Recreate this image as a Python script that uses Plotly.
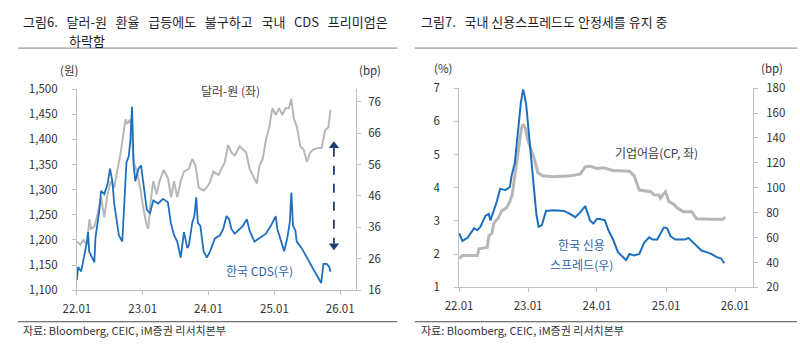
import plotly.graph_objects as go

# ---------------- data: left chart (그림6) ----------------
fx_dates = ["2022-01-01","2022-01-20","2022-02-07","2022-02-25","2022-03-12","2022-03-20","2022-04-08",
            "2022-04-27","2022-05-15","2022-06-02","2022-06-20","2022-07-08","2022-07-27","2022-08-14",
            "2022-09-01","2022-09-19","2022-09-28","2022-10-07","2022-10-25","2022-11-03","2022-11-12",
            "2022-11-30","2022-12-18","2023-01-06","2023-01-24","2023-02-01","2023-02-15","2023-03-01",
            "2023-03-19","2023-04-05","2023-04-27","2023-05-21","2023-06-08","2023-06-24","2023-07-12",
            "2023-07-31","2023-08-18","2023-09-15","2023-10-03","2023-10-21","2023-11-08","2023-12-05",
            "2023-12-23","2024-01-10","2024-01-28","2024-02-25","2024-03-14","2024-04-01","2024-04-19",
            "2024-05-07","2024-05-26","2024-06-22","2024-07-10","2024-07-28","2024-08-16","2024-09-03",
            "2024-09-25","2024-10-10","2024-10-28","2024-11-15","2024-12-03","2024-12-21","2025-01-08",
            "2025-01-27","2025-02-14","2025-03-04","2025-03-22","2025-04-04","2025-04-18","2025-05-06",
            "2025-05-25","2025-06-12","2025-06-30","2025-07-18","2025-08-05","2025-09-02","2025-09-20",
            "2025-10-09","2025-10-27","2025-11-08"]
fx_values = [1197,1191,1200,1191,1241,1222,1226,
             1253,1285,1245,1291,1317,1304,1336,
             1374,1418,1440,1431,1440,1405,1355,
             1336,1304,1260,1228,1222,1279,1317,
             1291,1317,1339,1323,1285,1317,1285,
             1317,1336,1342,1361,1348,1304,1298,
             1305,1315,1336,1329,1342,1355,1389,
             1374,1368,1386,1380,1374,1342,1329,
             1312,1348,1361,1399,1424,1462,1449,
             1462,1449,1462,1462,1481,1443,1424,
             1386,1380,1355,1374,1380,1383,1383,
             1418,1424,1459]

cds_dates = ["2022-01-01","2022-01-08","2022-01-25","2022-02-14","2022-02-26","2022-03-04","2022-03-10",
             "2022-04-08","2022-04-14","2022-05-06","2022-05-15","2022-06-02","2022-06-20","2022-07-04",
             "2022-07-17","2022-07-27","2022-08-10","2022-08-22","2022-09-10","2022-09-23","2022-10-03",
             "2022-10-16","2022-10-25","2022-11-03","2022-11-12","2022-11-21","2022-12-09","2022-12-23",
             "2023-01-06","2023-01-24","2023-02-11","2023-03-01","2023-03-28","2023-04-24","2023-05-21",
             "2023-06-06","2023-06-24","2023-07-12","2023-07-31","2023-08-18","2023-09-06","2023-09-15",
             "2023-10-03","2023-10-15","2023-10-25","2023-11-03","2023-11-17","2023-12-05","2023-12-23",
             "2024-01-10","2024-02-06","2024-03-05","2024-03-23","2024-04-10","2024-04-25","2024-05-07",
             "2024-05-26","2024-06-22","2024-07-10","2024-08-01","2024-08-16","2024-09-12","2024-10-08",
             "2024-11-15","2024-12-12","2025-01-08","2025-01-17","2025-02-05","2025-02-24","2025-03-13",
             "2025-03-27","2025-04-05","2025-04-14","2025-04-27","2025-05-05","2025-06-01","2025-06-30",
             "2025-07-27","2025-08-24","2025-09-17","2025-09-30","2025-10-18","2025-11-01","2025-11-08"]
cds_values = [19.3,23.4,22.0,27.4,31.5,34.5,28.4,
              24.9,32.7,41.6,47.6,46.6,49.7,54.7,
              50.6,43.6,38.5,33.5,31.5,44.6,56.7,
              58.7,63.8,74.4,55.7,50.7,54.7,55.7,
              49.7,41.6,40.6,44.6,43.6,45.1,44.0,
              37.5,33.5,31.5,26.4,34.5,29.4,30.5,
              37.5,39.6,45.6,37.5,36.5,28.4,26.4,
              28.4,32.5,33.5,35.5,39.6,38.6,35.5,
              34.0,35.5,36.5,38.6,35.0,31.5,32.5,
              34.0,36.5,39.6,35.5,31.5,28.4,32.5,
              37.5,47.1,36.5,35.0,31.5,29.4,26.4,
              23.4,20.3,18.3,24.4,24.4,23.4,21.9]

# ---------------- data: right chart (그림7) ----------------
cp_dates = ["2022-01-01","2022-01-19","2022-04-08","2022-04-16","2022-05-30","2022-06-07","2022-06-24",
            "2022-07-03","2022-07-29","2022-08-15","2022-09-10","2022-09-27","2022-10-09","2022-10-23",
            "2022-11-10","2022-11-27","2022-12-06","2022-12-18","2023-01-01","2023-01-18","2023-02-05",
            "2023-02-22","2023-03-19","2023-05-18","2023-08-14","2023-10-04","2023-10-31","2023-11-25",
            "2023-12-31","2024-02-03","2024-03-26","2024-06-21","2024-07-16","2024-08-03","2024-08-12",
            "2024-10-12","2024-10-29","2024-11-24","2024-12-02","2024-12-20","2024-12-29","2025-01-15",
            "2025-02-11","2025-02-28","2025-04-03","2025-05-16","2025-06-11","2025-08-28","2025-10-28",
            "2025-11-10"]
cp_values = [1.87,1.96,1.96,2.16,2.20,2.54,2.63,
             2.92,3.11,3.31,3.40,3.59,3.78,4.36,
             5.12,5.79,5.91,5.79,5.41,5.12,4.84,
             4.45,4.36,4.33,4.36,4.41,4.63,4.65,
             4.58,4.60,4.52,4.50,4.36,4.07,3.93,
             3.88,3.78,3.78,3.69,3.83,3.88,3.59,
             3.50,3.40,3.28,3.28,3.07,3.05,3.05,
             3.12]

spread_dates = ["2022-01-01","2022-01-19","2022-02-15","2022-03-21","2022-04-08","2022-04-24","2022-05-21",
                "2022-06-07","2022-06-16","2022-07-03","2022-07-20","2022-08-07","2022-09-02","2022-09-27",
                "2022-10-06","2022-10-23","2022-11-10","2022-11-24","2022-12-06","2022-12-14","2022-12-23",
                "2023-01-10","2023-01-27","2023-02-14","2023-02-26","2023-03-15","2023-04-06","2023-05-18",
                "2023-07-10","2023-08-14","2023-09-08","2023-10-04","2023-10-31","2023-11-25","2023-12-13",
                "2023-12-31","2024-01-17","2024-02-12","2024-03-01","2024-03-26","2024-04-21","2024-05-17",
                "2024-06-03","2024-06-21","2024-07-16","2024-08-12","2024-09-07","2024-10-03","2024-10-20",
                "2024-11-15","2024-12-02","2024-12-20","2025-01-07","2025-01-24","2025-02-19","2025-03-17",
                "2025-04-12","2025-04-29","2025-05-16","2025-06-11","2025-07-07","2025-08-02","2025-08-28",
                "2025-09-23","2025-10-19","2025-11-05"]
spread_values = [63.6,57.3,59.8,67.4,66.0,68.7,77.6,
                 78.9,73.8,81.4,89.1,99.3,98.1,100.6,
                 109.6,119.8,147.8,168.3,179.0,174.0,165.7,
                 135.0,104.4,78.9,68.7,69.9,81.4,81.9,
                 81.4,78.9,76.4,80.2,85.3,73.8,71.3,
                 75.0,75.0,73.8,66.1,58.5,48.3,44.5,
                 42.0,46.9,45.7,46.9,56.0,60.3,58.5,
                 58.5,63.6,68.2,67.4,61.1,58.5,58.5,
                 58.5,59.8,57.3,53.4,49.6,48.3,47.0,
                 44.5,43.2,39.4]

tick_dates = ["2022-01-01","2023-01-01","2024-01-01","2025-01-01","2026-01-01"]
tick_text = ["22.01","23.01","24.01","25.01","26.01"]

# ---------------- styling / layout constants ----------------
W, H = 800, 344
FONT = "Noto Sans CJK KR, Noto Sans, sans-serif"
GRAY_LINE = "#b7b7b7"
BLUE = "#1f6fc1"
TXT = "#333333"
AX = "#bfbfbf"

def px(x):
    return x / W

def py(y):
    return 1 - y / H

fig = go.Figure()

fig.add_trace(go.Scatter(x=fx_dates, y=fx_values, mode="lines", line=dict(color=GRAY_LINE, width=2),
                         xaxis="x", yaxis="y", showlegend=False))
fig.add_trace(go.Scatter(x=cds_dates, y=cds_values, mode="lines", line=dict(color=BLUE, width=1.8),
                         xaxis="x", yaxis="y2", showlegend=False))
fig.add_trace(go.Scatter(x=cp_dates, y=cp_values, mode="lines", line=dict(color=GRAY_LINE, width=3),
                         xaxis="x2", yaxis="y3", showlegend=False))
fig.add_trace(go.Scatter(x=spread_dates, y=spread_values, mode="lines", line=dict(color=BLUE, width=2),
                         xaxis="x2", yaxis="y4", showlegend=False))

# dashed double arrow (left chart, in CDS bp units)
ARROW_X = "2025-11-27"
ARROW_TOP, ARROW_BOT = 63.3, 28.9
NAVY = "#1f3f73"
fig.add_trace(go.Scatter(x=[ARROW_X, ARROW_X], y=[ARROW_TOP - 2.0, ARROW_BOT + 2.0], mode="lines",
                         line=dict(color=NAVY, width=1.8, dash="dash"), xaxis="x", yaxis="y2", showlegend=False))
fig.add_trace(go.Scatter(x=[ARROW_X, ARROW_X], y=[ARROW_TOP - 1.3, ARROW_BOT + 1.3], mode="markers",
                         marker=dict(symbol=["triangle-up", "triangle-down"], size=9, color=NAVY),
                         xaxis="x", yaxis="y2", showlegend=False))

tickfont = dict(family=FONT, size=11.5, color=TXT)

def xax(domain, anchor, end):
    return dict(domain=domain, anchor=anchor, type="date", range=["2022-01-01", end],
                tickvals=tick_dates, ticktext=tick_text, showgrid=False, zeroline=False,
                showline=True, linecolor=AX, linewidth=1, ticks="outside", ticklen=4,
                tickcolor=AX, tickfont=tickfont, ticklabelstandoff=4)

def yax(domain, anchor, rng, dtick, side="left", overlay=None, fmt=None, standoff=8):
    d = dict(domain=domain, anchor=anchor, range=rng, dtick=dtick, tick0=rng[0], side=side,
             showgrid=False, zeroline=False, showline=True, linecolor=AX, linewidth=1,
             ticks="outside", ticklen=4, tickcolor=AX, tickfont=tickfont, ticklabelstandoff=standoff)
    if overlay:
        d["overlaying"] = overlay
    if fmt:
        d["tickformat"] = fmt
    return d

L_dom_x = [px(64), px(348)]
L_dom_y = [py(295), py(84)]
R_dom_x = [px(453), px(752)]
R_dom_y = [py(292), py(83)]

fig.update_layout(
    width=W, height=H, autosize=False,
    margin=dict(l=0, r=0, t=0, b=0),
    paper_bgcolor="white", plot_bgcolor="white",
    font=dict(family=FONT, color=TXT),
    xaxis=xax(L_dom_x, "y", "2026-03-29"),
    yaxis=yax(L_dom_y, "x", [1100, 1500], 50, fmt=",", standoff=12),
    yaxis2=dict(yax(L_dom_y, "x", [16, 80], 10, side="right", overlay="y", standoff=5),
                tickvals=[16, 26, 36, 46, 56, 66, 76]),
    xaxis2=xax(R_dom_x, "y3", "2026-04-05"),
    yaxis3=yax(R_dom_y, "x2", [1, 7], 1, standoff=12),
    yaxis4=yax(R_dom_y, "x2", [20, 180], 20, side="right", overlay="y3", standoff=6),
)

def ann(text, x, y, size=12, color=TXT, xanchor="center"):
    fig.add_annotation(text=text, x=px(x), y=py(y), xref="paper", yref="paper", showarrow=False,
                       xanchor=xanchor, yanchor="middle", font=dict(family=FONT, size=size, color=color))

NB = "\u00a0"
TITLE_C = "#1e1e1e"
# titles
ann(f"그림6.{NB*3}달러-원{NB*3}환율{NB*3}급등에도{NB*3}불구하고{NB*3}국내{NB*3}CDS{NB*3}프리미엄은",
    7, 13.5, size=13, color=TITLE_C, xanchor="left")
ann("하락함", 54, 33.5, size=13, color=TITLE_C, xanchor="left")
ann(f"그림7.{NB*3}국내 신용스프레드도 안정세를 유지 중", 412, 13.5, size=13, color=TITLE_C, xanchor="left")

# unit labels
ann("(원)", 56, 64, size=11.5)
ann("(bp)", 362, 64, size=11.5)
ann("(%)", 437, 62, size=11.5)
ann("(bp)", 771, 62, size=11.5)

# series labels
ann("달러-원 (좌)", 220, 85, size=12, color="#404040")
ann("한국 CDS(우)", 250, 274, size=12, color="#2a64a8")
ann("기업어음(CP, 좌)", 654, 151, size=12, color="#404040")
ann("한국 신용", 578, 247, size=12, color="#2a64a8")
ann("스프레드(우)", 578, 268, size=12, color="#2a64a8")

# sources
SRC = "자료: Bloomberg, CEIC, iM증권 리서치본부"
ann(SRC, 7, 337, size=11, color="#333333", xanchor="left")
ann(SRC, 412, 337, size=11, color="#333333", xanchor="left")

# rules
for x0, x1 in [(4, 390), (408, 797)]:
    fig.add_shape(type="line", xref="paper", yref="paper", x0=px(x0), x1=px(x1), y0=py(41), y1=py(41),
                  line=dict(color="#7f7f7f", width=1))
    fig.add_shape(type="line", xref="paper", yref="paper", x0=px(x0), x1=px(x1), y0=py(328), y1=py(328),
                  line=dict(color="#4d4d4d", width=1))

fig.write_html("out.html")
